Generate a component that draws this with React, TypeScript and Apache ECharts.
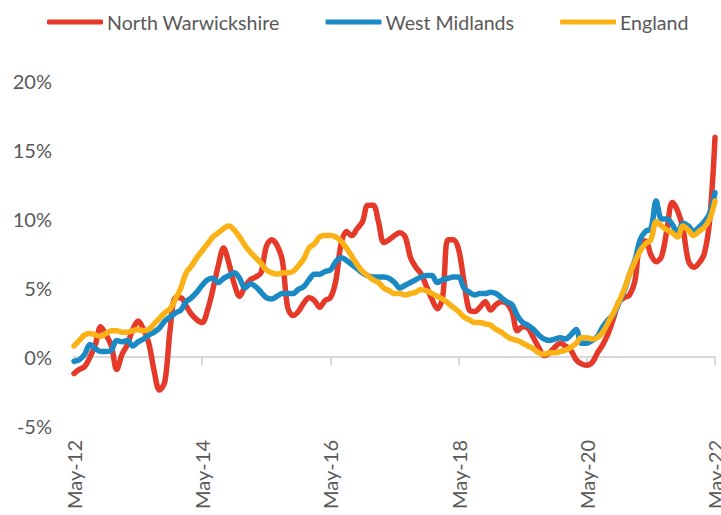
import React, { useEffect, useRef } from "react";
import * as echarts from "echarts";

const MONTHS = ["Jan", "Feb", "Mar", "Apr", "May", "Jun", "Jul", "Aug", "Sep", "Oct", "Nov", "Dec"];
// Monthly categories May-12 .. May-22
const categories: string[] = [];
for (let k = 0; k <= 120; k++) {
  const m = (4 + k) % 12;
  const y = 12 + Math.floor((4 + k) / 12);
  categories.push(`${MONTHS[m]}-${String(y).padStart(2, "0")}`);
}

const seriesNames = ["North Warwickshire", "West Midlands", "England"];

const northWarwickshire = [
  -1.2, -0.9, -0.7, 0.0, 0.9, 2.2, 1.6, 0.8, -0.9, 0.2,
  0.9, 2.0, 2.6, 2.0, 1.0, -1.0, -2.4, -1.8, 2.0, 4.3,
  4.3, 3.7, 3.1, 2.7, 2.5, 3.4, 4.9, 6.6, 7.9, 6.8,
  5.3, 4.4, 5.1, 5.6, 5.8, 6.1, 8.0, 8.5, 8.1, 7.0,
  3.6, 3.0, 3.3, 3.9, 4.3, 4.1, 3.6, 4.1, 4.3, 5.5,
  8.2, 9.1, 8.8, 9.3, 9.8, 11.0, 11.0, 9.8, 8.3, 8.5,
  8.8, 9.0, 8.7, 7.2, 6.5, 6.0, 5.1, 4.2, 3.5, 4.3,
  8.5, 8.5, 7.8, 5.5, 3.4, 3.3, 3.6, 4.0, 3.4, 3.8,
  4.0, 3.9, 3.3, 1.9, 2.2, 2.1, 1.4, 0.7, 0.1, 0.3,
  0.7, 1.0, 0.8, 0.5, -0.2, -0.5, -0.6, -0.4, 0.3, 0.9,
  1.7, 2.8, 4.0, 4.3, 4.5, 5.5, 8.3, 8.4, 7.4, 6.9,
  7.3, 9.2, 11.2, 10.6, 9.3, 7.0, 6.5, 6.8, 7.5, 9.9,
  15.9,
];

const westMidlands = [
  -0.3, -0.2, 0.2, 0.9, 0.6, 0.4, 0.4, 0.5, 1.2, 1.1,
  1.2, 0.8, 1.1, 1.3, 1.6, 1.8, 2.1, 2.6, 2.9, 3.2,
  3.4, 4.0, 4.3, 4.7, 5.2, 5.6, 5.7, 5.4, 5.7, 5.9,
  6.1, 5.7, 5.0, 5.3, 5.1, 4.7, 4.3, 4.2, 4.4, 4.6,
  4.6, 4.6, 4.9, 5.1, 5.6, 6.0, 6.0, 6.2, 6.3, 6.9,
  7.2, 7.0, 6.7, 6.4, 6.1, 5.9, 5.8, 5.8, 5.8, 5.7,
  5.4, 5.0, 5.2, 5.4, 5.6, 5.8, 5.9, 5.9, 5.4, 5.6,
  5.7, 5.8, 5.8, 5.0, 4.7, 4.5, 4.6, 4.6, 4.7, 4.6,
  4.3, 4.0, 3.8, 3.0, 2.5, 2.3, 2.0, 1.6, 1.3, 1.2,
  1.3, 1.4, 1.3, 1.6, 2.0, 1.0, 1.0, 1.2, 1.5, 2.2,
  2.7, 3.1, 3.9, 4.8, 6.0, 7.0, 8.5, 9.1, 9.3, 11.3,
  10.0, 10.0, 9.6, 9.0, 9.7, 9.5, 9.1, 9.4, 9.8, 10.4,
  11.9,
];

const england = [
  0.8, 1.2, 1.6, 1.7, 1.6, 1.5, 1.7, 1.9, 1.9, 1.8,
  1.8, 1.9, 2.0, 1.9, 2.0, 2.4, 2.8, 3.2, 3.5, 4.2,
  5.0, 6.1, 6.6, 7.2, 7.7, 8.2, 8.7, 9.0, 9.3, 9.5,
  9.2, 8.7, 8.1, 7.6, 7.2, 6.8, 6.3, 6.1, 6.0, 6.1,
  6.1, 6.2, 6.6, 7.1, 7.9, 8.2, 8.7, 8.8, 8.8, 8.7,
  8.4, 7.9, 7.3, 6.7, 6.2, 5.9, 5.6, 5.4, 5.0, 4.8,
  4.6, 4.6, 4.5, 4.6, 4.7, 4.9, 4.8, 4.6, 4.4, 4.2,
  3.9, 3.6, 3.3, 2.9, 2.7, 2.5, 2.5, 2.4, 2.3, 2.0,
  1.8, 1.5, 1.3, 1.2, 1.0, 0.8, 0.6, 0.3, 0.2, 0.3,
  0.3, 0.4, 0.5, 0.7, 1.0, 1.4, 1.4, 1.3, 1.4, 1.8,
  2.5, 3.2, 4.0, 4.9, 6.0, 6.9, 7.7, 8.2, 8.5, 9.8,
  9.5, 9.2, 9.0, 8.7, 9.5, 9.2, 8.8, 9.1, 9.4, 10.0,
  11.3,
];

const yTicks = { min: -5, max: 20, interval: 5 };
const colors = ["#E5392A", "#1B8AC4", "#FBB217"];
const FONT = "Lato, 'Liberation Sans', sans-serif";
const TEXT = "#595959";

export default function App() {
  const ref = useRef<HTMLDivElement>(null);
  useEffect(() => {
    if (!ref.current) return;
    const chart = echarts.init(ref.current, undefined, { renderer: "svg" });
    const values = [northWarwickshire, westMidlands, england];
    chart.setOption({
      animation: false,
      backgroundColor: "#ffffff",
      textStyle: { fontFamily: FONT },
      legend: {
        data: seriesNames,
        left: 47,
        top: 12,
        padding: 0,
        itemWidth: 56,
        itemHeight: 5,
        itemGap: 46,
        icon: "roundRect",
        textStyle: { color: TEXT, fontSize: 19.6, fontFamily: FONT, padding: [0, 0, 0, -1] },
      },
      grid: { left: 74, right: 6, top: 81, bottom: 89, containLabel: false, outerBoundsMode: "none" },
      xAxis: {
        type: "category",
        data: categories,
        boundaryGap: false,
        axisLine: { onZero: true, lineStyle: { color: "#D9D9D9", width: 2 } },
        axisTick: { show: true, interval: 23, length: 8, lineStyle: { color: "#D9D9D9", width: 2 } },
        axisLabel: {
          interval: 23,
          rotate: 90,
          margin: 14,
          color: TEXT,
          fontSize: 20,
          fontFamily: FONT,
        },
        splitLine: { show: false },
      },
      yAxis: {
        type: "value",
        min: yTicks.min,
        max: yTicks.max,
        interval: yTicks.interval,
        axisLine: { show: false },
        axisTick: { show: false },
        splitLine: { show: false },
        axisLabel: {
          formatter: "{value}%",
          color: TEXT,
          fontSize: 20,
          fontFamily: FONT,
          margin: 22,
        },
      },
      series: seriesNames.map((name, i) => ({
        name,
        type: "line",
        data: values[i],
        smooth: 0.35,
        symbol: "none",
        color: colors[i],
        lineStyle: { width: 5.5, color: colors[i], cap: "round", join: "round" },
      })),
    });
    return () => chart.dispose();
  }, []);
  return (
    <div
      ref={ref}
      style={{ position: "fixed", left: 0, top: 0, width: 721, height: 515, background: "#fff" }}
    />
  );
}
